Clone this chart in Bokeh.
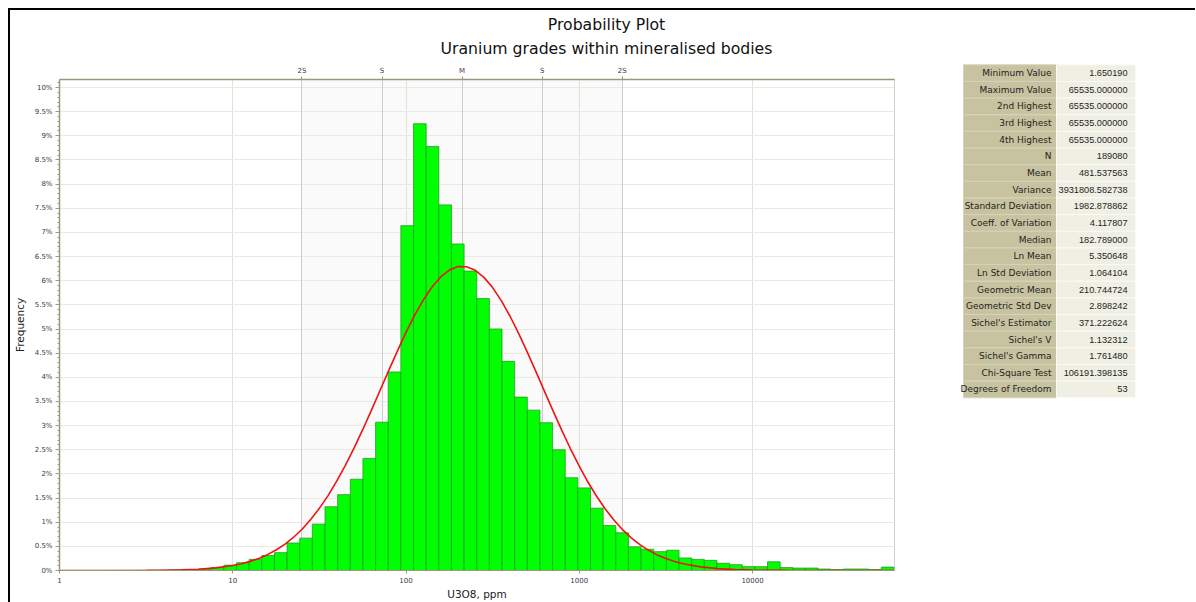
import numpy as np
from bokeh.plotting import figure
from bokeh.layouts import row, column
from bokeh.models import (Range1d, LogAxis, FixedTicker, CustomJSTickFormatter,
                          Grid, BoxAnnotation)
from bokeh.embed import file_html
from bokeh.resources import INLINE
from bokeh.core.properties import value

# ---------------- data ----------------
n_bins = 66
x_low = 1.0
x_high = 65535.0

freq_pct = [0, 0, 0, 0, 0.001, 0.002, 0.003, 0.005, 0.008, 0.012,
            0.02, 0.03, 0.06, 0.11, 0.16, 0.23, 0.31, 0.37, 0.57, 0.67,
            0.96, 1.32, 1.57, 1.89, 2.32, 3.07, 4.11, 7.14, 9.25, 8.78,
            7.57, 6.76, 6.20, 5.63, 5.00, 4.33, 3.59, 3.32, 3.06, 2.50,
            1.92, 1.71, 1.29, 0.93, 0.78, 0.49, 0.44, 0.39, 0.42, 0.26,
            0.23, 0.21, 0.15, 0.12, 0.08, 0.08, 0.18, 0.06, 0.05, 0.05,
            0.03, 0.02, 0.03, 0.03, 0.02, 0.07]

curve_ppm = [1, 2.512, 3.162, 3.981, 5.012, 6.310, 7.943,
             10, 11.22, 12.59, 14.13, 15.85, 17.78, 19.95, 22.39, 25.12, 28.18,
             31.62, 35.48, 39.81, 44.67, 50.12, 56.23, 63.10, 70.79, 79.43, 89.13,
             100, 112.2, 125.9, 141.3, 158.5, 177.8, 199.5, 223.9, 251.2, 281.8,
             316.2, 354.8, 398.1, 446.7, 501.2, 562.3, 631.0, 707.9, 794.3, 891.3,
             1000, 1122, 1259, 1413, 1585, 1778, 1995, 2239, 2512, 2818,
             3162, 3548, 3981, 5012, 6310, 7943, 10000, 15849, 25119, 39811, 65535]
curve_pct = [0, 0.001, 0.003, 0.006, 0.013, 0.027, 0.055,
             0.104, 0.141, 0.189, 0.250, 0.328, 0.424, 0.542, 0.684, 0.855, 1.055,
             1.287, 1.551, 1.849, 2.177, 2.534, 2.915, 3.315, 3.726, 4.138, 4.543,
             4.930, 5.287, 5.604, 5.870, 6.078, 6.220, 6.292, 6.290, 6.215, 6.069,
             5.858, 5.588, 5.269, 4.910, 4.522, 4.117, 3.704, 3.294, 2.895, 2.515,
             2.159, 1.832, 1.537, 1.274, 1.044, 0.845, 0.676, 0.535, 0.418, 0.323,
             0.247, 0.186, 0.139, 0.075, 0.038, 0.019, 0.009, 0.002, 0.0003, 0, 0]

stat_names = ["Minimum Value", "Maximum Value", "2nd Highest", "3rd Highest",
              "4th Highest", "N", "Mean", "Variance", "Standard Deviation",
              "Coeff. of Variation", "Median", "Ln Mean", "Ln Std Deviation",
              "Geometric Mean", "Geometric Std Dev", "Sichel's Estimator",
              "Sichel's V", "Sichel's Gamma", "Chi-Square Test", "Degrees of Freedom"]
stat_values = ["1.650190", "65535.000000", "65535.000000", "65535.000000",
               "65535.000000", "189080", "481.537563", "3931808.582738",
               "1982.878862", "4.117807", "182.789000", "5.350648", "1.064104",
               "210.744724", "2.898242", "371.222624", "1.132312", "1.761480",
               "106191.398135", "53"]

ln_mean = 5.350648
ln_sd = 1.064104
sd_labels = ["2S", "S", "M", "S", "2S"]
sd_multiples = [-2, -1, 0, 1, 2]
x_ticks = [1, 10, 100, 1000, 10000]
y_ticks = [i * 0.5 for i in range(21)]
y_minor = [i / 10 for i in range(102)]

title_lines = ["Probability Plot", "Uranium grades within mineralised bodies"]
x_title = "U3O8, ppm"
y_title = "Frequency"

# ---------------- derived ----------------
log_w = np.log10(x_high / x_low) / n_bins
edges = 10 ** (np.log10(x_low) + np.arange(n_bins + 1) * log_w)
mu10 = ln_mean / np.log(10)
s10 = ln_sd / np.log(10)
sd_ticks = [float(10 ** (mu10 + k * s10)) for k in sd_multiples]

FONT = "DejaVu Sans"
OLIVE = "#9a987a"
LBL = "#3a3a48"

# ---------------- title strip ----------------
W_ALL = 1185
TTL_H = 52
tt = figure(width=W_ALL, height=TTL_H, x_range=Range1d(0, W_ALL),
            y_range=Range1d(TTL_H, 0), output_backend="svg",
            toolbar_location=None, min_border=0, x_axis_location=None,
            y_axis_location=None, outline_line_color=None,
            background_fill_color="white", border_fill_color="white")
tt.frame_align = False
tt.xgrid.visible = False
tt.ygrid.visible = False
tt.text(x=[596, 596], y=[14.3, 38.3], text=title_lines, text_align="center",
        text_baseline="alphabetic", text_font=value(FONT),
        text_font_size=value("15.7px"), text_color="#111111")

# ---------------- main chart ----------------
x_end = 66000.0
y_end = 10.166
MAIN_W, MAIN_H = 945, 540

p = figure(width=MAIN_W, height=MAIN_H, x_axis_type="log",
           x_range=Range1d(x_low, x_end), y_range=Range1d(0, y_end),
           output_backend="svg", toolbar_location=None,
           min_border_left=49, min_border_right=61, min_border_top=17,
           min_border_bottom=32, background_fill_color="white",
           border_fill_color="white", outline_line_color="#d2d2ca")
p.frame_align = False

# shaded +-2S band
p.add_layout(BoxAnnotation(left=sd_ticks[0], right=sd_ticks[-1], fill_color="#fafafa",
                           fill_alpha=1.0, line_color=None, level="image"))

# bottom axis
xa = p.xaxis[0]
xa.ticker = FixedTicker(ticks=x_ticks)
xa.formatter = CustomJSTickFormatter(code="return String(tick);")
xa.major_tick_out = 3
xa.major_tick_in = 0
xa.minor_tick_line_color = None
xa.axis_line_color = OLIVE
xa.major_tick_line_color = OLIVE
xa.major_label_text_font = FONT
xa.major_label_text_font_size = "7px"
xa.major_label_text_color = LBL
xa.major_label_standoff = 3
xa.axis_label = x_title
xa.axis_label_text_font = FONT
xa.axis_label_text_font_size = "10.5px"
xa.axis_label_text_font_style = "normal"
xa.axis_label_text_color = "#222222"
xa.axis_label_standoff = 2

# left axis
ya = p.yaxis[0]
ya.ticker = FixedTicker(ticks=y_ticks, minor_ticks=y_minor)
ya.formatter = CustomJSTickFormatter(code="return tick + '%';")
ya.major_tick_out = 4
ya.major_tick_in = 0
ya.minor_tick_out = 2
ya.minor_tick_in = 0
ya.axis_line_color = OLIVE
ya.axis_line_width = 1.5
ya.major_tick_line_color = OLIVE
ya.minor_tick_line_color = OLIVE
ya.major_label_text_font = FONT
ya.major_label_text_font_size = "7px"
ya.major_label_text_color = LBL
ya.major_label_standoff = 3
ya.axis_label = y_title
ya.axis_label_text_font = FONT
ya.axis_label_text_font_size = "10.5px"
ya.axis_label_text_font_style = "normal"
ya.axis_label_text_color = "#222222"
ya.axis_label_standoff = 6

# top axis with S markers
sd_ticker = FixedTicker(ticks=sd_ticks)
ta = LogAxis(ticker=sd_ticker,
             formatter=CustomJSTickFormatter(args=dict(labels=sd_labels),
                                             code="return labels[index];"))
ta.major_tick_out = 3
ta.major_tick_in = 0
ta.minor_tick_line_color = None
ta.axis_line_color = OLIVE
ta.axis_line_width = 1.5
ta.major_tick_line_color = OLIVE
ta.major_label_text_font = FONT
ta.major_label_text_font_size = "7px"
ta.major_label_text_color = LBL
ta.major_label_standoff = 2
p.add_layout(ta, "above")

# grids
p.xgrid.ticker = FixedTicker(ticks=x_ticks)
p.xgrid.grid_line_color = "#e2e2da"
p.ygrid.ticker = FixedTicker(ticks=y_ticks)
p.ygrid.grid_line_color = "#ebeadc"
p.add_layout(Grid(dimension=0, ticker=sd_ticker, grid_line_color="#cdcdcd"))

# histogram and fitted curve
p.quad(left=edges[:-1], right=edges[1:], bottom=0, top=freq_pct,
       fill_color="#00ff00", line_color="#1f9f1f", line_width=0.8)
p.line(curve_ppm, curve_pct, line_color="#ee1414", line_width=1.6)

# ---------------- statistics table ----------------
TW, TH = W_ALL - MAIN_W, MAIN_H
t = figure(width=TW, height=TH, x_range=Range1d(0, TW), y_range=Range1d(TH, 0),
           output_backend="svg", toolbar_location=None, min_border=0,
           x_axis_location=None, y_axis_location=None,
           outline_line_color=None, background_fill_color="white",
           border_fill_color="white")
t.frame_align = False
t.xgrid.visible = False
t.ygrid.visible = False

n_rows = len(stat_names)
row_h = 16.65
top0 = 2.3
col_l, col_m, col_r = 8, 101, 180
tops = [top0 + i * row_h for i in range(n_rows)]
bots = [v + row_h for v in tops]
mids = [v + row_h / 2 for v in tops]

t.quad(left=col_l, right=col_m, top=tops, bottom=bots,
       fill_color="#c7c3a0", line_color="#d6d3bb", line_width=1)
t.quad(left=col_m, right=col_r, top=tops, bottom=bots,
       fill_color="#efefe4", line_color="#fbfbf7", line_width=1)
t.text(x=col_m - 5, y=mids, text=stat_names, text_align="right",
       text_baseline="middle", text_font=value(FONT),
       text_font_size=value("9px"), text_color="#1e1e1e")
t.text(x=col_r - 8, y=mids, text=stat_values, text_align="right",
       text_baseline="middle", text_font=value("Liberation Sans"),
       text_font_size=value("9.2px"), text_color="#1e1e1e")

layout = column(tt, row(p, t), margin=(8, 0, 0, 8),
                styles={"border-top": "2px solid #000000",
                        "border-left": "2px solid #000000"})

open("out.html", "w").write(file_html(layout, INLINE))
